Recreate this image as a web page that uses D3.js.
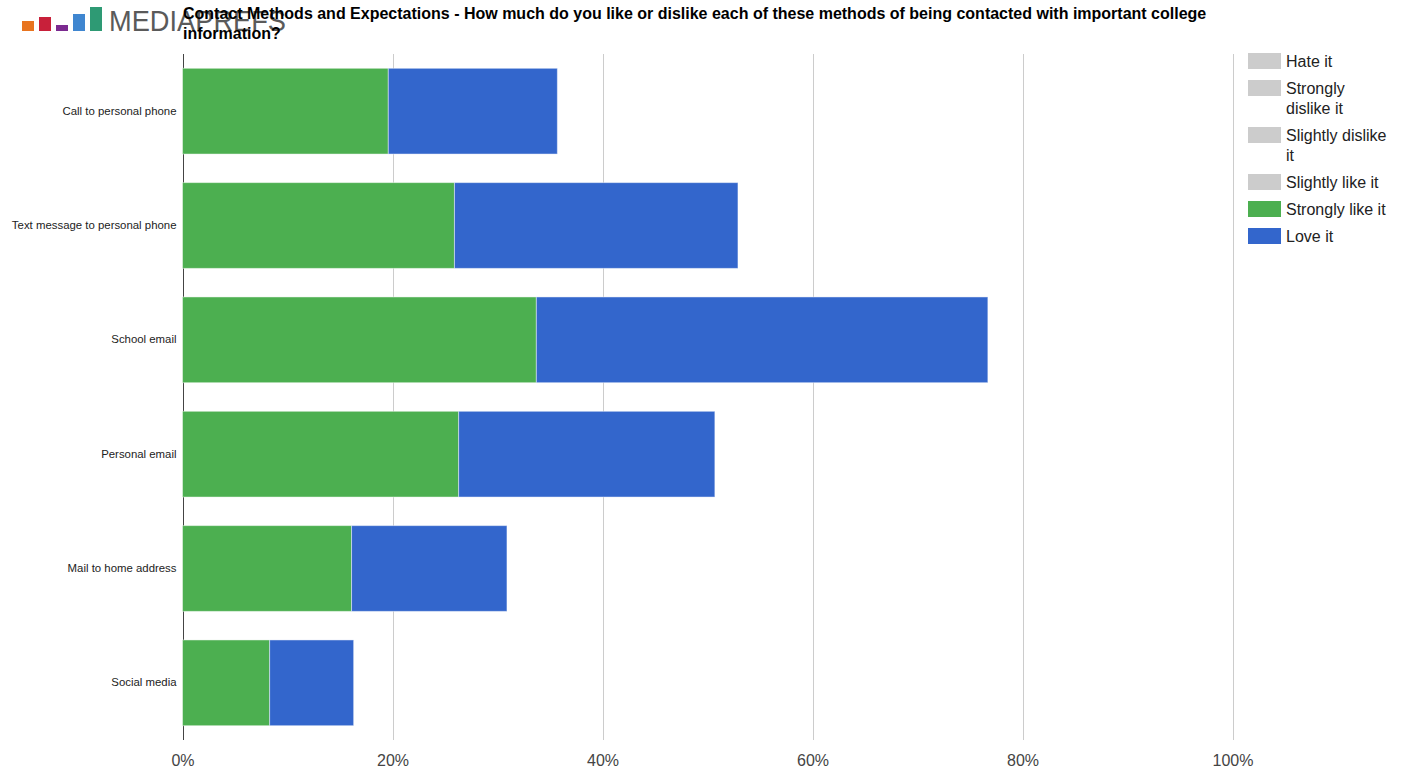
<!DOCTYPE html>
<html>
<head>
<meta charset="utf-8">
<script src="https://cdn.jsdelivr.net/npm/d3@7"></script>
<style>
  html, body { margin: 0; padding: 0; background: #fff; }
  svg { display: block; font-family: Arial, "Liberation Sans", sans-serif; }
</style>
</head>
<body>
<svg id="chart" width="1412" height="769"></svg>
<script>
// Contact methods (rows, top to bottom)
const categories = [
  "Call to personal phone",
  "Text message to personal phone",
  "School email",
  "Personal email",
  "Mail to home address",
  "Social media"
];

// Share of respondents (%) per answer
const stronglyLikeIt = [19.6, 25.9, 33.7, 26.3, 16.1, 8.3];
const loveIt         = [16.1, 27.0, 43.0, 24.4, 14.8, 8.0];

// Legend entries; the first four answers have no bars and show as grey keys
const legendLabels = ["Hate it", "Strongly dislike it", "Slightly dislike it", "Slightly like it", "Strongly like it", "Love it"];
const legendColors = ["#cccccc", "#cccccc", "#cccccc", "#cccccc", "#4caf50", "#3366cc"];

const xTicks = [0, 20, 40, 60, 80, 100];
const titleLines = [
  "Contact Methods and Expectations - How much do you like or dislike each of these methods of being contacted with important college",
  "information?"
];

const svg = d3.select("#chart");
const plot = { left: 182.5, right: 1232.5, top: 54, bottom: 740 };

const x = d3.scaleLinear().domain([0, 100]).range([plot.left, plot.right]);
const y = d3.scaleBand().domain(categories).range([plot.top, plot.bottom]).paddingInner(0.25).paddingOuter(0.125);

// Brand mark in the top-left corner
const logo = svg.append("g");
const logoBars = [
  { c: "#e8741f", h: 10 }, { c: "#c8203a", h: 14 }, { c: "#7b2a90", h: 6 },
  { c: "#3f86d0", h: 17 }, { c: "#2e9a74", h: 24 }
];
logo.selectAll("rect").data(logoBars).join("rect")
  .attr("x", (d, i) => 22 + i * 17)
  .attr("y", d => 31 - d.h)
  .attr("width", 12)
  .attr("height", d => d.h)
  .attr("fill", d => d.c);
logo.append("text")
  .attr("x", 109).attr("y", 31)
  .attr("font-size", 29).attr("fill", "#5a5a5a")
  .attr("font-family", "'Liberation Sans', Arial, sans-serif")
  .attr("textLength", 177).attr("lengthAdjust", "spacingAndGlyphs")
  .text("MEDIAPREFS");

// Vertical gridlines
svg.append("g").selectAll("line").data(xTicks.filter(d => d > 0)).join("line")
  .attr("x1", d => Math.round(x(d)) + 0.5).attr("x2", d => Math.round(x(d)) + 0.5)
  .attr("y1", plot.top).attr("y2", plot.bottom)
  .attr("stroke", "#cccccc").attr("stroke-width", 1);

// Baseline at 0%
svg.append("line")
  .attr("x1", Math.round(x(0)) + 0.5).attr("x2", Math.round(x(0)) + 0.5)
  .attr("y1", plot.top).attr("y2", plot.bottom)
  .attr("stroke", "#444").attr("stroke-width", 1);

// Stacked bars
const rows = categories.map((c, i) => ({ category: c, strong: stronglyLikeIt[i], love: loveIt[i] }));
const stack = d3.stack().keys(["strong", "love"])(rows);
const seriesColors = { strong: "#4caf50", love: "#3366cc" };

svg.append("g").selectAll("g").data(stack).join("g")
  .attr("fill", d => seriesColors[d.key])
  .selectAll("rect").data(d => d).join("rect")
  .attr("x", d => x(d[0]))
  .attr("y", d => y(d.data.category))
  .attr("width", d => x(d[1]) - x(d[0]))
  .attr("height", y.bandwidth())
  .attr("stroke", "#ffffff").attr("stroke-opacity", 0.45).attr("stroke-width", 1);

// Category labels
const yAxis = d3.axisLeft(y).tickSize(0).tickPadding(6);
const yG = svg.append("g").attr("transform", `translate(${x(0)},0)`).call(yAxis);
yG.select(".domain").remove();
yG.selectAll("text").attr("font-size", 11.4).attr("fill", "#222").attr("font-family", "Arial, 'Liberation Sans', sans-serif");

// Percentage axis
const xAxis = d3.axisBottom(x).tickValues(xTicks).tickSize(0).tickPadding(0).tickFormat(d => d + "%");
const xG = svg.append("g").attr("transform", `translate(0,${plot.bottom})`).call(xAxis);
xG.select(".domain").remove();
xG.selectAll("text").attr("font-size", 16).attr("fill", "#444").attr("y", 26).attr("dy", null)
  .attr("font-family", "Arial, 'Liberation Sans', sans-serif");

// Title
svg.append("g").selectAll("text").data(titleLines).join("text")
  .attr("x", 183).attr("y", (d, i) => 19 + i * 20)
  .attr("font-size", 16).attr("font-weight", "bold").attr("fill", "#000")
  .text(d => d);

// Legend with word wrap
const legend = svg.append("g").attr("font-size", 16).attr("fill", "#222");
const maxLabelWidth = 105;
let cy = 61;
legendLabels.forEach((label, i) => {
  const t = legend.append("text").attr("x", 1286).attr("y", cy);
  const words = label.split(" ");
  let lines = [], cur = "";
  words.forEach(w => {
    const test = cur ? cur + " " + w : w;
    t.text(test);
    if (t.node().getComputedTextLength() > maxLabelWidth && cur) { lines.push(cur); cur = w; }
    else cur = test;
  });
  lines.push(cur);
  t.text(null);
  lines.forEach((ln, j) => t.append("tspan").attr("x", 1286).attr("y", cy + j * 20).attr("dy", "0.35em").text(ln));
  legend.append("rect")
    .attr("x", 1248).attr("y", cy - 8).attr("width", 33).attr("height", 16)
    .attr("fill", legendColors[i]);
  cy += 7 + lines.length * 20;
});
</script>
</body>
</html>
